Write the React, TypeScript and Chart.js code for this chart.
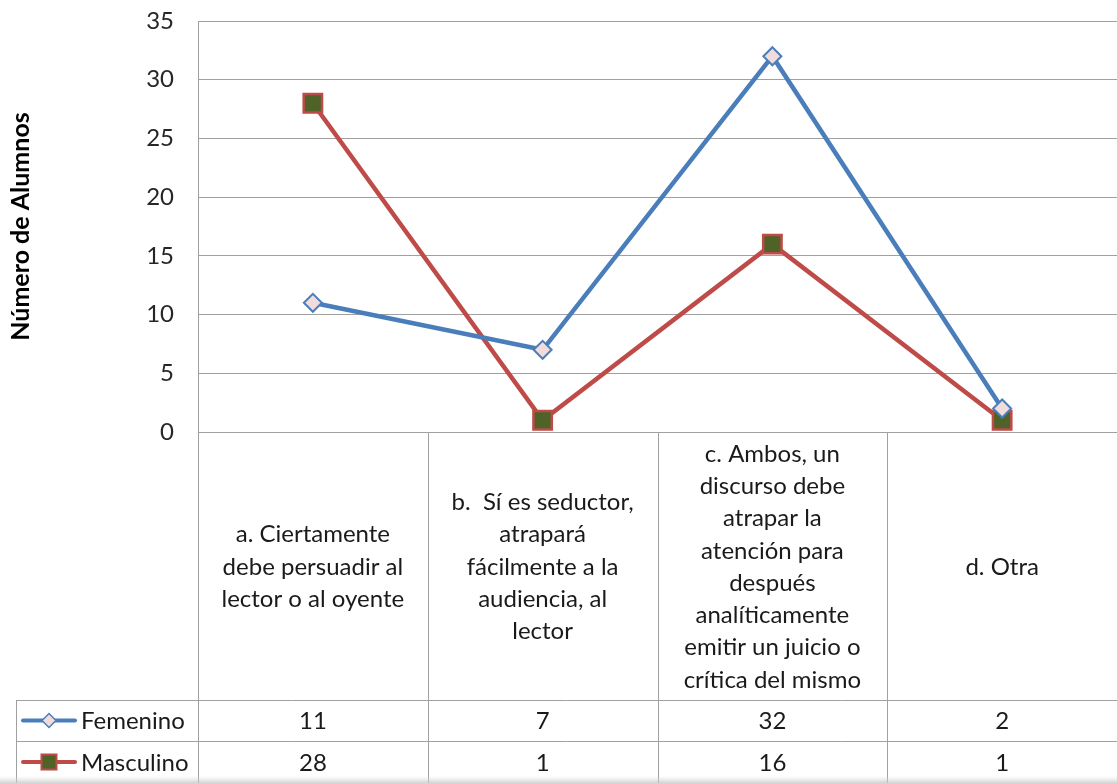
import React, { useEffect, useRef } from "react";
import { Chart, registerables } from "chart.js";
Chart.register(...registerables);

const categories: string[][] = [
  ["a. Ciertamente", "debe persuadir al", "lector o al oyente"],
  ["b.  Sí es seductor,", "atrapará", "fácilmente a la", "audiencia, al", "lector"],
  ["c. Ambos, un", "discurso debe", "atrapar la", "atención para", "después", "analíticamente", "emitir un juicio o", "crítica del mismo"],
  ["d. Otra"],
];
const seriesNames = ["Femenino", "Masculino"];
const femenino = [11, 7, 32, 2];
const masculino = [28, 1, 16, 1];
const yMin = 0;
const yMax = 35;
const yStep = 5;
const yTitle = "Número de Alumnos";

const FONT = "Lato, 'Open Sans', sans-serif";
const GRID = "#a0a0a0";
const BLUE = "#4a7ebb";
const RED = "#be4b48";
const PINK = "#f2dcdb";
const OLIVE = "#4f6228";
const TEXT = "#1a1a1a";

function drawDiamond(ctx: CanvasRenderingContext2D, x: number, y: number, r: number) {
  ctx.beginPath();
  ctx.moveTo(x - r, y);
  ctx.lineTo(x, y - r);
  ctx.lineTo(x + r, y);
  ctx.lineTo(x, y + r);
  ctx.closePath();
  ctx.fillStyle = PINK;
  ctx.fill();
  ctx.strokeStyle = BLUE;
  ctx.lineWidth = 1.5;
  ctx.stroke();
}
function drawSquare(ctx: CanvasRenderingContext2D, x: number, y: number, s: number) {
  ctx.fillStyle = OLIVE;
  ctx.fillRect(x - s / 2, y - s / 2, s, s);
  ctx.strokeStyle = RED;
  ctx.lineWidth = 2;
  ctx.strokeRect(x - s / 2, y - s / 2, s, s);
}

const tablePlugin = {
  id: "dataTable",
  afterDraw(chart: any) {
    const ctx: CanvasRenderingContext2D = chart.ctx;
    const area = chart.chartArea;
    const xs = chart.scales.x;
    const H = chart.height;
    const W = chart.width;
    const centers = categories.map((_, i) => xs.getPixelForValue(i));
    const bounds = [area.left];
    for (let i = 0; i < centers.length - 1; i++) bounds.push((centers[i] + centers[i + 1]) / 2);
    const catBottom = 700;
    const row1Bottom = 741;
    const legendLeft = 16;

    ctx.save();
    ctx.strokeStyle = GRID;
    ctx.lineWidth = 1;
    bounds.forEach((b) => {
      const x = Math.round(b) + 0.5;
      ctx.beginPath();
      ctx.moveTo(x, area.bottom);
      ctx.lineTo(x, H);
      ctx.stroke();
    });
    ctx.beginPath();
    ctx.moveTo(legendLeft + 0.5, catBottom);
    ctx.lineTo(legendLeft + 0.5, H);
    ctx.stroke();
    [catBottom, row1Bottom].forEach((y) => {
      ctx.beginPath();
      ctx.moveTo(legendLeft, y + 0.5);
      ctx.lineTo(W, y + 0.5);
      ctx.stroke();
    });

    ctx.fillStyle = TEXT;
    ctx.font = `24px ${FONT}`;
    ctx.textAlign = "center";
    ctx.textBaseline = "middle";
    const lh = 32.3;
    const midY = (area.bottom + catBottom) / 2 + 1;
    categories.forEach((lines, i) => {
      const start = midY - ((lines.length - 1) * lh) / 2;
      lines.forEach((l, j) => ctx.fillText(l, centers[i], start + j * lh));
    });

    const rowY = [(catBottom + row1Bottom) / 2 + 1, (row1Bottom + H) / 2 + 1];
    [femenino, masculino].forEach((vals, r) => {
      vals.forEach((v, i) => ctx.fillText(String(v), centers[i], rowY[r]));
    });

    ctx.textAlign = "left";
    seriesNames.forEach((name, r) => {
      const y = rowY[r] - 1;
      ctx.strokeStyle = r === 0 ? BLUE : RED;
      ctx.lineWidth = 4;
      ctx.lineCap = "round";
      ctx.beginPath();
      ctx.moveTo(23, y);
      ctx.lineTo(75, y);
      ctx.stroke();
      if (r === 0) drawDiamond(ctx, 49, y, 7);
      else drawSquare(ctx, 49, y, 15);
      ctx.fillStyle = TEXT;
      ctx.fillText(name, 81, rowY[r]);
    });

    const g = ctx.createLinearGradient(0, H - 7, 0, H);
    g.addColorStop(0, "rgba(220,220,220,0)");
    g.addColorStop(1, "rgba(200,200,200,0.8)");
    ctx.fillStyle = g;
    ctx.fillRect(0, H - 7, W, 7);
    ctx.restore();
  },
};

export default function App() {
  const ref = useRef<HTMLCanvasElement>(null);
  useEffect(() => {
    if (!ref.current) return;
    const chart = new Chart(ref.current, {
      type: "line",
      data: {
        labels: categories.map((c) => c.join(" ")),
        datasets: [
          {
            label: seriesNames[0],
            data: femenino,
            borderColor: BLUE,
            borderWidth: 4.5,
            pointStyle: "rectRot",
            pointRadius: 9,
            pointBackgroundColor: PINK,
            pointBorderColor: BLUE,
            pointBorderWidth: 2,
            tension: 0,
          },
          {
            label: seriesNames[1],
            data: masculino,
            borderColor: RED,
            borderWidth: 4.5,
            pointStyle: "rect",
            pointRadius: 13,
            pointBackgroundColor: OLIVE,
            pointBorderColor: RED,
            pointBorderWidth: 2.5,
            tension: 0,
          },
        ],
      },
      options: {
        responsive: false,
        animation: false,
        layout: { autoPadding: false, padding: { top: 21, bottom: 783 - 432, left: 0, right: -2 } },
        plugins: { legend: { display: false }, tooltip: { enabled: false } },
        scales: {
          x: { display: false, offset: true },
          y: {
            min: yMin,
            max: yMax,
            ticks: { stepSize: yStep, padding: 24, color: "#262626", font: { family: FONT, size: 24 } },
            grid: { color: GRID, lineWidth: 1, drawTicks: false },
            border: { display: true, color: GRID, width: 1 },
            title: {
              display: true,
              text: yTitle,
              color: "#000",
              font: { family: FONT, size: 25, weight: "bold" },
              padding: { top: 6, bottom: 0 },
            },
            afterFit: (s: any) => {
              s.width = 198;
              s.paddingTop = 0;
              s.paddingBottom = 0;
            },
          },
        },
      },
      plugins: [tablePlugin],
    });
    return () => chart.destroy();
  }, []);
  return (
    <div style={{ position: "absolute", left: 0, top: 0, width: 1117, height: 783, overflow: "hidden", background: "#fff" }}>
      <canvas ref={ref} width={1117} height={783} />
    </div>
  );
}
